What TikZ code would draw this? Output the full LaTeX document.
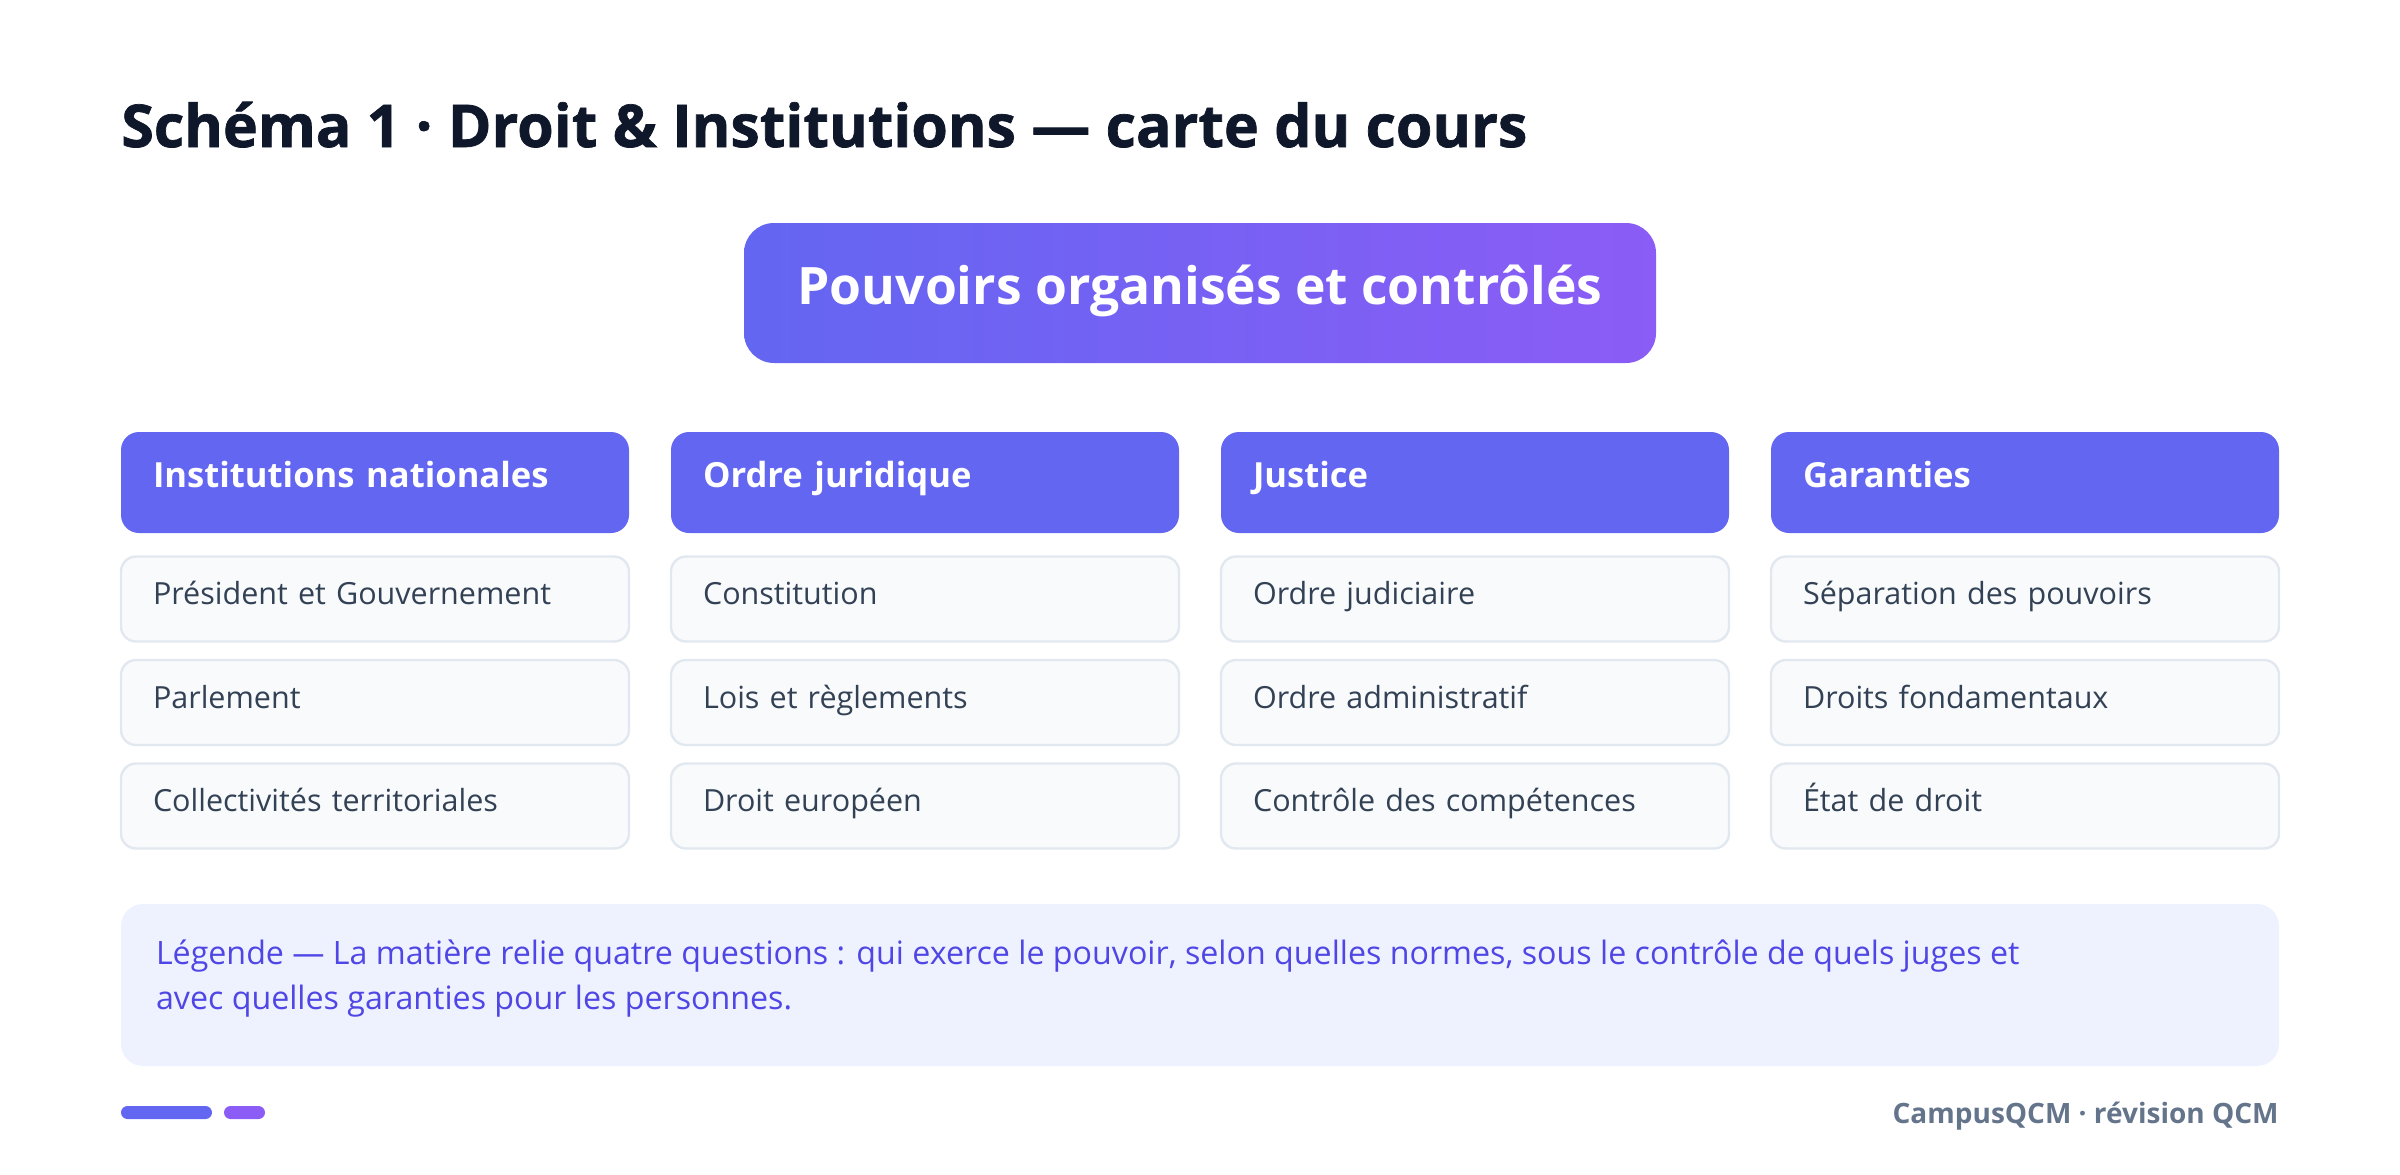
\documentclass[tikz,border=0pt]{standalone}
\usepackage{fontspec}
\setmainfont{Open Sans}
\newfontfamily\heavyfont{Open Sans}[BoldFeatures={FakeBold=1.2}]
\usetikzlibrary{positioning}
\definecolor{titleink}{HTML}{0F172A}
\definecolor{indigomain}{HTML}{6366F1}
\definecolor{violetmain}{HTML}{8B5CF6}
\definecolor{topicfill}{HTML}{F8FAFC}
\definecolor{topicline}{HTML}{E2E8F0}
\definecolor{topicink}{HTML}{334155}
\definecolor{legendfill}{HTML}{EEF2FF}
\definecolor{legendink}{HTML}{4F46E5}
\definecolor{footink}{HTML}{64748B}

\begin{document}
\begin{tikzpicture}[x=0.5pt,y=-0.5pt,on grid,node distance=51.75pt and 275pt,
    colhead/.style={fill=indigomain,rounded corners=9pt,text width=222pt,align=left,inner xsep=16pt,inner ysep=0pt,minimum height=50.5pt,text=white,font=\fontsize{17.3}{20}\selectfont\bfseries,text height=12.3pt,text depth=7.5pt},
    topic/.style={fill=topicfill,draw=topicline,line width=1.2pt,rounded corners=7.5pt,text width=222pt,align=left,inner xsep=16pt,inner ysep=0pt,minimum height=42.5pt,text=topicink,font=\fontsize{15.25}{18}\selectfont,text height=10.9pt,text depth=5pt}]
    \useasboundingbox (0,0) rectangle (2400,1174);

    \node[anchor=base west,inner sep=0pt,text=titleink,font=\fontsize{29.5}{36}\selectfont\heavyfont\bfseries] (title) at (121,147) {Schéma 1 · Droit \& Institutions — carte du cours};
    \node[left color=indigomain,right color=violetmain,rounded corners=15pt,minimum width=456pt,minimum height=70pt,inner sep=0pt,text=white,font=\fontsize{25.8}{30}\selectfont\bfseries,text height=18.4pt,text depth=7pt] (core) at (1200,293) {Pouvoirs organisés et contrôlés};

    \node[colhead] (institutions) at (375,482.5) {Institutions nationales};
    \node[colhead] (ordre) [right=of institutions] {Ordre juridique};
    \node[colhead] (justice) [right=of ordre] {Justice};
    \node[colhead] (garanties) [right=of justice] {Garanties};

    \node[topic] (president) [below=58.25pt of institutions] {Président et Gouvernement};
    \node[topic] (parlement) [below=of president] {Parlement};
    \node[topic] (collectivites) [below=of parlement] {Collectivités territoriales};

    \node[topic] (constitution) [below=58.25pt of ordre] {Constitution};
    \node[topic] (lois) [below=of constitution] {Lois et règlements};
    \node[topic] (europe) [below=of lois] {Droit européen};

    \node[topic] (judiciaire) [below=58.25pt of justice] {Ordre judiciaire};
    \node[topic] (administratif) [below=of judiciaire] {Ordre administratif};
    \node[topic] (competences) [below=of administratif] {Contrôle des compétences};

    \node[topic] (separation) [below=58.25pt of garanties] {Séparation des pouvoirs};
    \node[topic] (droits) [below=of separation] {Droits fondamentaux};
    \node[topic] (etatdroit) [below=of droits] {État de droit};

    \node[fill=legendfill,rounded corners=11pt,minimum width=1079pt,minimum height=81pt,inner sep=0pt] (legend) at (1200,985) {};
    \node[anchor=base west,align=left,inner sep=0pt,text=legendink,font=\fontsize{16.1}{22.5}\selectfont] (legendtext) at ([xshift=17.5pt,yshift=-53pt]legend.north west) {Légende — La matière relie quatre questions : qui exerce le pouvoir, selon quelles normes, sous le contrôle de quels juges et\\avec quelles garanties pour les personnes.};

    \node[fill=indigomain,rounded corners=3.25pt,minimum width=45.5pt,minimum height=6.5pt,inner sep=0pt] (barA) at (166.5,1112.5) {};
    \node[fill=violetmain,rounded corners=3.25pt,minimum width=20.5pt,minimum height=6.5pt,inner sep=0pt] (barB) [right=39pt of barA] {};
    \node[anchor=base east,inner sep=0pt,text=footink,font=\fontsize{14}{16}\selectfont\bfseries] (footer) at (2279,1123) {CampusQCM · révision QCM};
\end{tikzpicture}
\end{document}
